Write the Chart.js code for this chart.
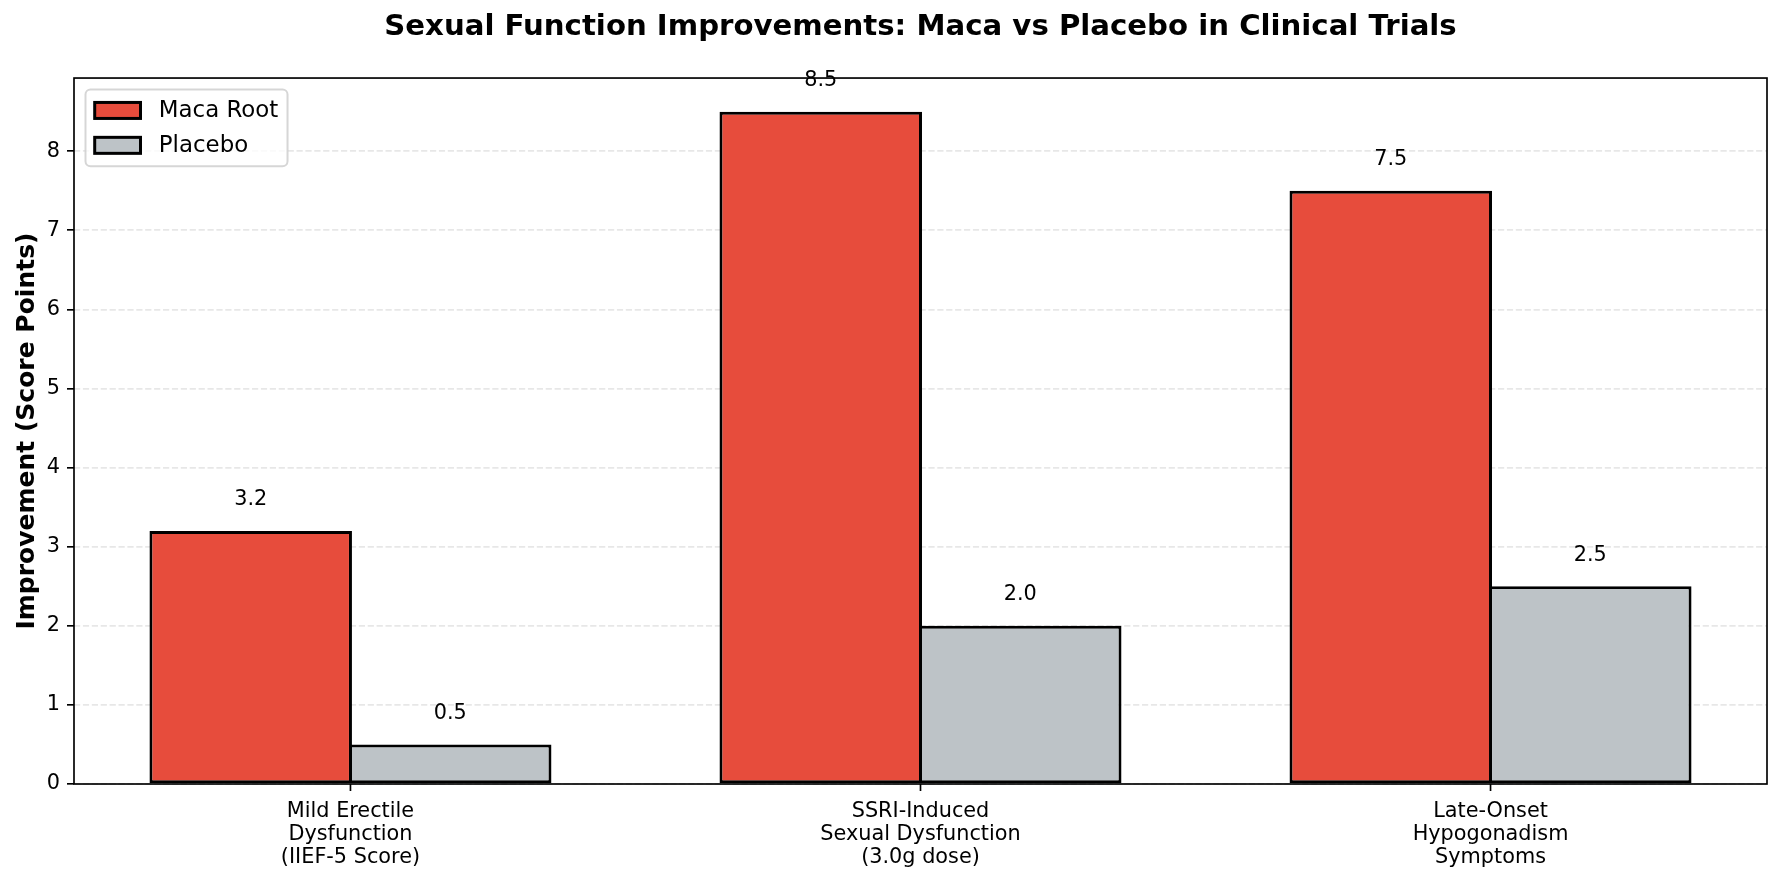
<!DOCTYPE html>
<html>
<head>
<meta charset="utf-8">
<script src="https://cdn.jsdelivr.net/npm/chart.js@4.4.0/dist/chart.umd.min.js"></script>
<style>
    html, body { margin: 0; padding: 0; background: #fff; }
    #wrap { width: 1782px; height: 881px; }
</style>
</head>
<body>
<div id="wrap"><canvas id="chart" width="1782" height="881"></canvas></div>
<script>
const categories = [
    ['Mild Erectile', 'Dysfunction', '(IIEF-5 Score)'],
    ['SSRI-Induced', 'Sexual Dysfunction', '(3.0g dose)'],
    ['Late-Onset', 'Hypogonadism', 'Symptoms']
];
const macaValues = [3.2, 8.5, 7.5];
const placeboValues = [0.5, 2.0, 2.5];
const seriesNames = ['Maca Root', 'Placebo'];
const seriesColors = ['#e74c3c', '#bdc3c7'];
const yTicks = [0, 1, 2, 3, 4, 5, 6, 7, 8];

Chart.defaults.font.family = '"DejaVu Sans", sans-serif';
Chart.defaults.color = '#000';

// value text above every bar
const valueLabels = {
    id: 'valueLabels',
    afterDatasetsDraw(chart) {
        const ctx = chart.ctx;
        const yScale = chart.scales.y;
        ctx.save();
        ctx.font = '20.8px "DejaVu Sans"';
        ctx.fillStyle = '#000';
        ctx.textAlign = 'center';
        ctx.textBaseline = 'bottom';
        chart.data.datasets.forEach((ds, di) => {
            chart.getDatasetMeta(di).data.forEach((bar, i) => {
                const v = ds.data[i].y;
                ctx.fillText(v.toFixed(1), bar.x, yScale.getPixelForValue(v + 0.3) + 3);
            });
        });
        ctx.restore();
    }
};

// axes box like the matplotlib spines, plus x tick marks
const frame = {
    id: 'frame',
    afterDatasetsDraw(chart) {
        const a = chart.chartArea;
        const ctx = chart.ctx;
        ctx.save();
        ctx.strokeStyle = '#000';
        ctx.lineWidth = 1.67;
        ctx.strokeRect(a.left, a.top, a.right - a.left, a.bottom - a.top);
        categories.forEach((c, i) => {
            const x = chart.scales.x.getPixelForValue(i);
            ctx.beginPath();
            ctx.moveTo(x, a.bottom);
            ctx.lineTo(x, a.bottom + 7);
            ctx.stroke();
        });
        ctx.restore();
    }
};

const legendBox = {
    id: 'legendBox',
    afterDraw(chart) {
        const a = chart.chartArea;
        const ctx = chart.ctx;
        const fs = 22.9;
        const x0 = a.left + 11.5, y0 = a.top + 11.5;
        ctx.save();
        ctx.font = fs + 'px "DejaVu Sans"';
        const tw = Math.max(...seriesNames.map(n => ctx.measureText(n).width));
        const w = 9.2 + 45.8 + 18.3 + tw + 9.2;
        const h = 9.2 + 2 * 23.4 + 11.5 + 9.2;
        ctx.beginPath();
        ctx.roundRect(x0, y0, w, h, 5);
        ctx.fillStyle = 'rgba(255,255,255,0.8)';
        ctx.fill();
        ctx.strokeStyle = 'rgba(204,204,204,0.8)';
        ctx.lineWidth = 2;
        ctx.stroke();
        seriesNames.forEach((name, i) => {
            const cy = y0 + 9.2 + 11.7 + i * 34.9;
            ctx.fillStyle = seriesColors[i];
            ctx.fillRect(x0 + 9.2, cy - 8, 45.8, 16);
            ctx.strokeStyle = '#000';
            ctx.lineWidth = 3;
            ctx.strokeRect(x0 + 9.2, cy - 8, 45.8, 16);
            ctx.fillStyle = '#000';
            ctx.textAlign = 'left';
            ctx.textBaseline = 'middle';
            ctx.fillText(name, x0 + 9.2 + 45.8 + 18.3, cy + 1);
        });
        ctx.restore();
    }
};

const ctx = document.getElementById('chart');
new Chart(ctx, {
    type: 'bar',
    data: {
        datasets: [
            {
                label: seriesNames[0],
                data: macaValues.map((v, i) => ({ x: i, y: v })),
                backgroundColor: seriesColors[0],
                borderColor: '#000',
                borderWidth: 3,
                borderSkipped: false
            },
            {
                label: seriesNames[1],
                data: placeboValues.map((v, i) => ({ x: i, y: v })),
                backgroundColor: seriesColors[1],
                borderColor: '#000',
                borderWidth: 3,
                borderSkipped: false
            }
        ]
    },
    options: {
        responsive: false,
        animation: false,
        devicePixelRatio: 1,
        categoryPercentage: 0.7,
        barPercentage: 1.015,
        layout: { padding: { left: 0, right: 15, top: 0, bottom: 0 } },
        plugins: {
            legend: { display: false },
            tooltip: { enabled: false },
            title: {
                display: true,
                fullSize: false,
                text: 'Sexual Function Improvements: Maca vs Placebo in Clinical Trials',
                font: { size: 29.2, weight: 'bold' },
                color: '#000',
                padding: { top: 10, bottom: 33 }
            }
        },
        scales: {
            x: {
                type: 'linear',
                offset: false,
                min: -0.485,
                max: 2.485,
                afterBuildTicks: s => { s.ticks = categories.map((c, i) => ({ value: i })); },
                afterFit: s => { s.height = 97; },
                border: { display: false },
                grid: {
                    offset: false,
                    drawOnChartArea: false,
                    drawTicks: false
                },
                ticks: {
                    autoSkip: false,
                    maxRotation: 0,
                    padding: 16,
                    font: { size: 20.8, lineHeight: 1.1 },
                    color: '#000',
                    callback: v => categories[v]
                }
            },
            y: {
                min: 0,
                max: 8.925,
                afterBuildTicks: s => { s.ticks = yTicks.map(v => ({ value: v })); },
                afterFit: s => { s.width = 74; },
                border: { display: false, dash: [6.2, 2.7] },
                grid: {
                    color: '#e7e7e7',
                    lineWidth: 1.67,
                    tickColor: '#000',
                    tickLength: 7,
                    tickWidth: 1.67
                },
                ticks: {
                    padding: 7,
                    font: { size: 20.8 },
                    color: '#000'
                },
                title: {
                    display: true,
                    text: 'Improvement (Score Points)',
                    font: { size: 25, weight: 'bold' },
                    color: '#000',
                    padding: { top: 12, bottom: 0 }
                }
            }
        }
    },
    plugins: [valueLabels, frame, legendBox]
});
</script>
</body>
</html>
